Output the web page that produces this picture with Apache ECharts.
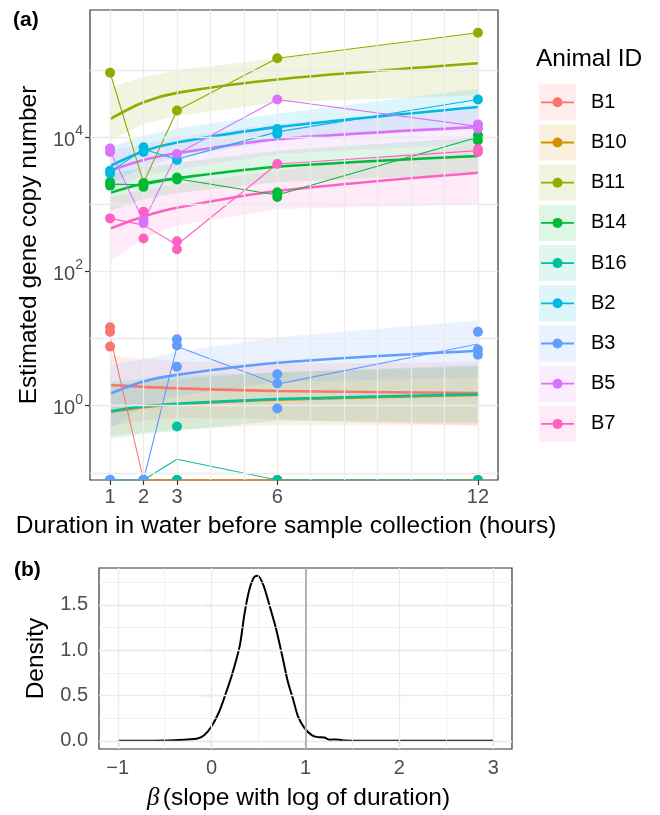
<!DOCTYPE html>
<html>
<head>
<meta charset="utf-8">
<script src="https://cdn.jsdelivr.net/npm/echarts@6/dist/echarts.min.js"></script>
<style>
html, body { margin: 0; padding: 0; background: #fff; }
#main { width: 660px; height: 815px; }
</style>
</head>
<body>
<div id="main"></div>
<script>
// ---- panel (a): copies vs duration ----
var hours = [1, 2, 3, 6, 12];
var animals = ['B1', 'B10', 'B11', 'B14', 'B16', 'B2', 'B3', 'B5', 'B7'];
var colors = ['#F8766D', '#D39200', '#93AA00', '#00BA38', '#00C19F', '#00B9E3', '#619CFF', '#DB72FB', '#FF61C3'];

// observed samples [hours, copies]  (0 = not detected)
var obsB1  = [[1, 14.8], [1, 12.6], [1, 7.6], [2, 0], [3, 0], [6, 0], [12, 0]];
var obsB10 = [[1, 0], [2, 0], [3, 0], [6, 0], [12, 0]];
var obsB11 = [[1, 91000], [2, 2100], [3, 25000], [6, 150000], [12, 360000]];
var obsB14 = [[1, 1900], [1, 2140], [2, 2040], [2, 1820], [3, 2340], [3, 2510], [6, 1510], [6, 1290], [12, 10700], [12, 8900]];
var obsB16 = [[1, 0], [2, 0], [3, 0], [3, 0.49], [6, 0], [12, 0]];
var obsB2  = [[1, 2880], [1, 3160], [2, 7080], [2, 6030], [3, 4570], [6, 13200], [6, 11200], [12, 36300]];
var obsB3  = [[1, 0], [2, 0], [3, 9.8], [3, 7.9], [3, 3.8], [6, 2.95], [6, 2.14], [6, 0.91], [12, 12.6], [12, 6.9], [12, 5.75]];
var obsB5  = [[1, 6030], [1, 6760], [2, 525], [2, 603], [3, 5620], [6, 36300], [12, 15500], [12, 13500]];
var obsB7  = [[1, 617], [2, 776], [2, 309], [3, 282], [3, 214], [6, 3980], [12, 6600], [12, 6030]];

// thin lines: mean copies at each duration
var meanB1  = [11, 0, 0, 0, 0];
var meanB10 = [0, 0, 0, 0, 0];
var meanB11 = [91000, 2100, 25000, 150000, 360000];
var meanB14 = [2000, 1950, 2400, 1380, 10000];
var meanB16 = [0, 0, 0.16, 0, 0];
var meanB2  = [3020, 6600, 4680, 12000, 36300];
var meanB3  = [0, 0, 7.6, 2.1, 8.3];
var meanB5  = [6300, 560, 5620, 36300, 14500];
var meanB7  = [617, 490, 250, 3980, 6300];

// fitted curves
var fitB1  = [2.04, 1.91, 1.82, 1.66, 1.55];
var fitB10 = [0.81, 0.95, 1.05, 1.23, 1.45];
var fitB11 = [18600, 33100, 45700, 72400, 126000];
var fitB14 = [1480, 2040, 2450, 3630, 5250];
var fitB16 = [0.83, 0.98, 1.07, 1.26, 1.48];
var fitB2  = [3720, 6170, 8320, 14100, 28200];
var fitB3  = [1.51, 2.29, 2.88, 4.37, 6.6];
var fitB5  = [3160, 4570, 5750, 9330, 14100];
var fitB7  = [437, 661, 891, 1580, 2950];

// confidence bands (lower / upper)
var loB1  = [0.50, 0.60, 0.66, 0.63, 0.50];
var hiB1  = [5.6, 5.0, 4.6, 4.2, 4.5];
var loB10 = [0.35, 0.40, 0.44, 0.52, 0.52];
var hiB10 = [2.0, 2.24, 2.5, 3.16, 3.8];
var loB11 = [8900, 15800, 20900, 33100, 41700];
var hiB11 = [55000, 79400, 100000, 148000, 355000];
var loB14 = [794, 1200, 1480, 2140, 2820];
var hiB14 = [2820, 3550, 4170, 6300, 10000];
var loB16 = [0.32, 0.38, 0.42, 0.60, 0.56];
var hiB16 = [2.24, 2.5, 2.8, 3.16, 4.0];
var loB2  = [2000, 3550, 5000, 8900, 15100];
var hiB2  = [7080, 10500, 13500, 22400, 52500];
var loB3  = [0.45, 1.0, 1.41, 2.24, 2.63];
var hiB3  = [4.0, 5.0, 6.3, 10.5, 18.6];
var loB5  = [1580, 2630, 3310, 5620, 7940];
var hiB5  = [6300, 7940, 10000, 15800, 28200];
var loB7  = [141, 316, 479, 851, 1000];
var hiB7  = [1260, 1660, 2000, 3160, 7940];

var xTicksA = [1, 2, 3, 6, 12];
var yTicksA = [1, 100, 10000];
var xGridA = [1, 2, 3, 4, 5, 6, 7, 8, 9, 10, 11, 12];
var yGridA = [0.1, 1, 10, 100, 1000, 10000, 100000];

// ---- panel (b): posterior of the slope ----
var betaX = [-1, -0.7, -0.5, -0.35, -0.25, -0.15, -0.08, 0.0, 0.08, 0.15, 0.22, 0.3, 0.35, 0.4, 0.45, 0.49,
             0.55, 0.62, 0.69, 0.76, 0.81, 0.87, 0.92, 0.99, 1.07, 1.13, 1.2, 1.26, 1.33, 1.42, 1.6, 2, 2.5, 3];
var betaDensity = [0, 0, 0.002, 0.008, 0.014, 0.025, 0.06, 0.16, 0.32, 0.52, 0.74, 1.05, 1.40, 1.66, 1.80, 1.82,
                   1.72, 1.48, 1.22, 0.90, 0.66, 0.45, 0.27, 0.14, 0.06, 0.04, 0.035, 0.012, 0.015, 0.002, 0, 0, 0, 0];
var xTicksB = [-1, 0, 1, 2, 3];
var yTicksB = [0, 0.5, 1, 1.5];
var xMajorB = [-1, 0, 1, 2, 3];
var xMinorB = [-0.5, 0.5, 1.5, 2.5];
var yMajorB = [0, 0.5, 1, 1.5];
var yMinorB = [0.25, 0.75, 1.25, 1.75];
var refSlope = 1;

var obsAll = [obsB1, obsB10, obsB11, obsB14, obsB16, obsB2, obsB3, obsB5, obsB7];
var meanAll = [meanB1, meanB10, meanB11, meanB14, meanB16, meanB2, meanB3, meanB5, meanB7];
var fitAll = [fitB1, fitB10, fitB11, fitB14, fitB16, fitB2, fitB3, fitB5, fitB7];
var loAll = [loB1, loB10, loB11, loB14, loB16, loB2, loB3, loB5, loB7];
var hiAll = [hiB1, hiB10, hiB11, hiB14, hiB16, hiB2, hiB3, hiB5, hiB7];

var Y_MIN_A = Math.pow(10, -1.106);
var Y_MAX_A = Math.pow(10, 5.894);
var FONT = 'Liberation Sans';

function floorZero(v) { return v > 0 ? v : Y_MIN_A; }
function fade(hex, a) {
    var r = parseInt(hex.substr(1, 2), 16), g = parseInt(hex.substr(3, 2), 16), b = parseInt(hex.substr(5, 2), 16);
    return 'rgba(' + r + ',' + g + ',' + b + ',' + a + ')';
}

var chart = echarts.init(document.getElementById('main'), null, { renderer: 'canvas' });

var series = [];

// grid lines (a)
series.push({
    type: 'line', xAxisIndex: 0, yAxisIndex: 0, data: [], z: 1, silent: true,
    markLine: {
        silent: true, symbol: ['none', 'none'], label: { show: false }, animation: false,
        lineStyle: { color: '#EBEBEB', width: 1.3, type: 'solid' },
        data: xGridA.map(function (v) { return { xAxis: v }; })
            .concat(yGridA.map(function (v) { return { yAxis: v }; }))
    }
});

// ribbons
animals.forEach(function (name, i) {
    var lo = loAll[i], hi = hiAll[i];
    series.push({
        type: 'custom', name: name, xAxisIndex: 0, yAxisIndex: 0, z: 2, clip: true, silent: true,
        data: [[hours[0], fitAll[i][0]]],
        renderItem: function (params, api) {
            var pts = [];
            for (var j = 0; j < hours.length; j++) pts.push(api.coord([hours[j], lo[j]]));
            for (var k = hours.length - 1; k >= 0; k--) pts.push(api.coord([hours[k], hi[k]]));
            return { type: 'polygon', shape: { points: pts }, style: { fill: fade(colors[i], 0.13) } };
        }
    });
});

// fitted lines
animals.forEach(function (name, i) {
    series.push({
        type: 'line', name: name, xAxisIndex: 0, yAxisIndex: 0, z: 3, smooth: 0.3, showSymbol: false,
        data: hours.map(function (h, j) { return [h, fitAll[i][j]]; }),
        lineStyle: { color: colors[i], width: 2.6 }
    });
});

// thin lines through means
animals.forEach(function (name, i) {
    series.push({
        type: 'line', name: name, xAxisIndex: 0, yAxisIndex: 0, z: 4, showSymbol: false, clip: true,
        data: hours.map(function (h, j) { return [h, floorZero(meanAll[i][j])]; }),
        lineStyle: { color: colors[i], width: 1.1 }
    });
});

// observed points
animals.forEach(function (name, i) {
    series.push({
        type: 'custom', name: name, xAxisIndex: 0, yAxisIndex: 0, z: 5, clip: true,
        data: obsAll[i].map(function (d) { return [d[0], floorZero(d[1])]; }),
        encode: { x: 0, y: 1 },
        renderItem: function (params, api) {
            var p = api.coord([api.value(0), api.value(1)]);
            return { type: 'circle', shape: { cx: p[0], cy: p[1], r: 5 }, style: { fill: colors[i] } };
        }
    });
});

// grid lines (b)
series.push({
    type: 'line', xAxisIndex: 1, yAxisIndex: 1, data: [], z: 1, silent: true,
    markLine: {
        silent: true, symbol: ['none', 'none'], label: { show: false }, animation: false,
        lineStyle: { color: '#EBEBEB', width: 1.3, type: 'solid' },
        data: xMinorB.map(function (v) { return { xAxis: v, lineStyle: { width: 0.7 } }; })
            .concat(yMinorB.map(function (v) { return { yAxis: v, lineStyle: { width: 0.7 } }; }))
            .concat(xMajorB.map(function (v) { return { xAxis: v }; }))
            .concat(yMajorB.map(function (v) { return { yAxis: v }; }))
            .concat([{ xAxis: refSlope, lineStyle: { color: '#A6A6A6', width: 1.6 } }])
    }
});

series.push({
    type: 'line', xAxisIndex: 1, yAxisIndex: 1, z: 4, smooth: 0.3, showSymbol: false,
    data: betaX.map(function (x, j) { return [x, betaDensity[j]]; }),
    lineStyle: { color: '#000', width: 2 }
});

// legend drawn by hand (key with tinted background)
var graphics = [
    { type: 'text', x: 13, y: 20, style: { text: '(a)', font: 'bold 21px ' + FONT, fill: '#000', verticalAlign: 'middle' } },
    { type: 'text', x: 14, y: 570, style: { text: '(b)', font: 'bold 21px ' + FONT, fill: '#000', verticalAlign: 'middle' } },
    { type: 'text', x: 536, y: 59, style: { text: 'Animal ID', font: '24.5px ' + FONT, fill: '#000', verticalAlign: 'middle' } }
];
animals.forEach(function (name, i) {
    var cy = 102.3 + i * 40.2;
    graphics.push({ type: 'rect', shape: { x: 539, y: cy - 18, width: 37, height: 36 }, style: { fill: fade(colors[i], 0.13) } });
    graphics.push({ type: 'line', shape: { x1: 541, y1: cy, x2: 574, y2: cy }, style: { stroke: colors[i], lineWidth: 1.8 } });
    graphics.push({ type: 'circle', shape: { cx: 557.5, cy: cy, r: 5 }, style: { fill: colors[i] } });
    graphics.push({ type: 'text', x: 591, y: cy, style: { text: name, font: '20px ' + FONT, fill: '#000', verticalAlign: 'middle' } });
});

var tickStyle = { show: true, length: 5, lineStyle: { color: '#333', width: 1.2 } };
var labelStyle = { color: '#4D4D4D', fontSize: 20, fontFamily: FONT };
var titleStyle = { fontSize: 24.5, color: '#000', fontFamily: FONT };

var option = {
    animation: false,
    backgroundColor: '#fff',
    textStyle: { fontFamily: FONT },
    grid: [
        { left: 90, top: 10, width: 408, height: 470, show: true, borderColor: '#333', borderWidth: 1.2, backgroundColor: '#fff' },
        { left: 99, top: 568, width: 413, height: 181, show: true, borderColor: '#333', borderWidth: 1.2, backgroundColor: '#fff' }
    ],
    xAxis: [
        {
            type: 'value', gridIndex: 0, min: 0.4, max: 12.6,
            splitLine: { show: false }, axisLine: { show: false },
            axisTick: Object.assign({ customValues: xTicksA }, tickStyle),
            axisLabel: Object.assign({ customValues: xTicksA, margin: 7 }, labelStyle),
            name: 'Duration in water before sample collection (hours)', nameLocation: 'middle', nameGap: 34,
            nameTextStyle: Object.assign({ padding: [0, 16, 0, 0] }, titleStyle)
        },
        {
            type: 'value', gridIndex: 1, min: -1.2, max: 3.2,
            splitLine: { show: false }, axisLine: { show: false },
            axisTick: Object.assign({ customValues: xTicksB }, tickStyle),
            axisLabel: Object.assign({
                customValues: xTicksB, margin: 9,
                formatter: function (v) { return v < 0 ? '\u2212' + Math.abs(v) : String(v); }
            }, labelStyle),
            name: '{i|\u03b2} {n|(slope with log of duration)}', nameLocation: 'middle', nameGap: 37,
            nameTextStyle: {
                color: '#000', padding: [0, 14, 0, 0],
                rich: {
                    i: { fontSize: 25, fontStyle: 'italic', fontFamily: 'Liberation Serif', color: '#000' },
                    n: { fontSize: 24.5, fontFamily: FONT, color: '#000' }
                }
            }
        }
    ],
    yAxis: [
        {
            type: 'log', logBase: 10, gridIndex: 0, min: Y_MIN_A, max: Y_MAX_A,
            splitLine: { show: false }, axisLine: { show: false },
            axisTick: Object.assign({ customValues: yTicksA }, tickStyle),
            axisLabel: Object.assign({
                customValues: yTicksA, margin: 7,
                formatter: function (v) { return '{b|10}{s|' + Math.round(Math.log(v) / Math.LN10) + '}'; },
                rich: {
                    b: { fontSize: 20, color: '#4D4D4D', fontFamily: FONT, verticalAlign: 'bottom', lineHeight: 26 },
                    s: { fontSize: 14, color: '#4D4D4D', fontFamily: FONT, verticalAlign: 'top', lineHeight: 26 }
                }
            }, labelStyle),
            name: 'Estimated gene copy number', nameLocation: 'middle', nameGap: 47,
            nameTextStyle: titleStyle
        },
        {
            type: 'value', gridIndex: 1, min: -0.091, max: 1.906,
            splitLine: { show: false }, axisLine: { show: false },
            axisTick: Object.assign({ customValues: yTicksB }, tickStyle),
            axisLabel: Object.assign({
                customValues: yTicksB, margin: 11,
                formatter: function (v) { return v.toFixed(1); }
            }, labelStyle),
            name: 'Density', nameLocation: 'middle', nameGap: 50,
            nameTextStyle: titleStyle
        }
    ],
    graphic: graphics,
    series: series
};

chart.setOption(option);
</script>
</body>
</html>
